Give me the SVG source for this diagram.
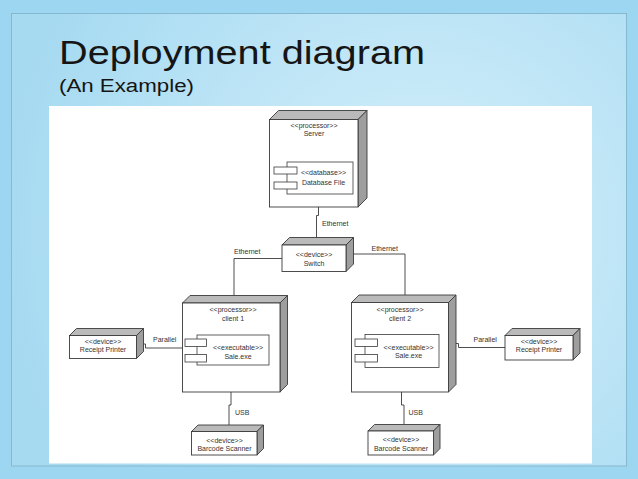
<svg xmlns="http://www.w3.org/2000/svg" width="638" height="479" viewBox="0 0 638 479">
<defs>
<radialGradient id="bg" cx="420" cy="230" r="420" gradientUnits="userSpaceOnUse">
<stop offset="0" stop-color="#d6f0fb"/>
<stop offset="1" stop-color="#a6daf1"/>
</radialGradient>
<style>
.front{fill:#ffffff;stroke:#3a3a3a;stroke-width:0.9}
.top{fill:#bababa;stroke:#3a3a3a;stroke-width:0.9;stroke-linejoin:round}
.side{fill:#9e9e9e;stroke:#3a3a3a;stroke-width:0.9;stroke-linejoin:round}
.comp{fill:#ffffff;stroke:#3a3a3a;stroke-width:0.8}
.t{font-family:"Liberation Sans",Arial,sans-serif;font-size:7px;fill:#333333;text-anchor:middle}
.lbl{font-family:"Liberation Sans",Arial,sans-serif;font-size:7px;fill:#333333}
.wire{fill:none;stroke:#3a3a3a;stroke-width:0.9}
</style>
</defs>
<rect x="0" y="0" width="638" height="479" fill="#9cd6f0"/>
<rect x="11.5" y="13.5" width="615" height="452.5" fill="url(#bg)" stroke="#86b9cf" stroke-width="1"/>
<text x="59" y="64" font-family="'Liberation Sans',Arial,sans-serif" font-size="34" fill="#151515" textLength="366" lengthAdjust="spacingAndGlyphs">Deployment diagram</text>
<text x="59" y="91.5" font-family="'Liberation Sans',Arial,sans-serif" font-size="18" fill="#151515" textLength="135" lengthAdjust="spacingAndGlyphs">(An Example)</text>
<rect x="49" y="106" width="543" height="357.5" fill="#ffffff"/>

<g id="connectors">
<path class="wire" d="M318.5 207 V215.5 H316.5 V245"/>
<path class="wire" d="M282 258.5 H234 V295.5"/>
<path class="wire" d="M350 254 H405 V295"/>
<path class="wire" d="M137 344 H145.5 V348 H182.5"/>
<path class="wire" d="M452.5 343.5 H458.5 V347.5 H505"/>
<path class="wire" d="M231 392 V405 H229 V425"/>
<path class="wire" d="M401.5 392 V405 H404 V424.5"/>
<text class="lbl" x="322" y="225.5">Ethernet</text>
<text class="lbl" x="234" y="254">Ethernet</text>
<text class="lbl" x="371.5" y="251">Ethernet</text>
<text class="lbl" x="153" y="342">Parallel</text>
<text class="lbl" x="473.5" y="342">Parallel</text>
<text class="lbl" x="235" y="414.5">USB</text>
<text class="lbl" x="408.5" y="414.5">USB</text>
</g>

<g id="server">
<polygon class="top" points="269.5,119.5 278.5,110.5 367,110.5 358,119.5"/>
<polygon class="side" points="358,119.5 367,110.5 367,198 358,207"/>
<rect class="front" x="269.5" y="119.5" width="88.5" height="87.5"/>
<text class="t" x="314" y="127.5">&lt;&lt;processor&gt;&gt;</text>
<text class="t" x="314" y="136">Server</text>
<g id="database-file">
<rect class="comp" x="287" y="162" width="66" height="32"/>
<rect class="comp" x="274" y="167" width="23" height="7"/>
<rect class="comp" x="274" y="182" width="23" height="7"/>
<text class="t" x="323.5" y="174.5">&lt;&lt;database&gt;&gt;</text>
<text class="t" x="323.5" y="184.5">Database File</text>
</g>
</g>

<g id="switch">
<polygon class="top" points="282,245 289.5,237.5 353.5,237.5 346,245"/>
<polygon class="side" points="346,245 353.5,237.5 353.5,264 346,271.5"/>
<rect class="front" x="282" y="245" width="64" height="26.5"/>
<text class="t" x="314" y="256.5">&lt;&lt;device&gt;&gt;</text>
<text class="t" x="314" y="265.5">Switch</text>
</g>

<g id="client1">
<polygon class="top" points="182.5,303 190,295.5 287.5,295.5 280,303"/>
<polygon class="side" points="280,303 287.5,295.5 287.5,384.5 280,392"/>
<rect class="front" x="182.5" y="303" width="97.5" height="89"/>
<text class="t" x="233" y="312">&lt;&lt;processor&gt;&gt;</text>
<text class="t" x="233" y="321">client 1</text>
<g id="sale-exe-1">
<rect class="comp" x="197" y="335" width="72" height="30"/>
<rect class="comp" x="185" y="339" width="21.5" height="7.5"/>
<rect class="comp" x="185" y="354.5" width="21.5" height="7.5"/>
<text class="t" x="238" y="349.5">&lt;&lt;executable&gt;&gt;</text>
<text class="t" x="238" y="358.5">Sale.exe</text>
</g>
</g>

<g id="client2">
<polygon class="top" points="351.5,302.5 359,295 456,295 448.5,302.5"/>
<polygon class="side" points="448.5,302.5 456,295 456,384.5 448.5,392"/>
<rect class="front" x="351.5" y="302.5" width="97" height="89.5"/>
<text class="t" x="400" y="312">&lt;&lt;processor&gt;&gt;</text>
<text class="t" x="400" y="320.5">client 2</text>
<g id="sale-exe-2">
<rect class="comp" x="365" y="334.5" width="74" height="33"/>
<rect class="comp" x="355" y="339" width="22.5" height="7.5"/>
<rect class="comp" x="355" y="354.5" width="22.5" height="7.5"/>
<text class="t" x="408.5" y="349.5">&lt;&lt;executable&gt;&gt;</text>
<text class="t" x="408.5" y="358">Sale.exe</text>
</g>
</g>

<g id="printer1">
<polygon class="top" points="69.5,335.5 76.5,328.5 143.5,328.5 136.5,335.5"/>
<polygon class="side" points="136.5,335.5 143.5,328.5 143.5,351.5 136.5,358.5"/>
<rect class="front" x="69.5" y="335.5" width="67" height="23"/>
<text class="t" x="103" y="343.5">&lt;&lt;device&gt;&gt;</text>
<text class="t" x="103" y="351.5">Receipt Printer</text>
</g>

<g id="printer2">
<polygon class="top" points="505,335.5 512,328.5 580,328.5 573,335.5"/>
<polygon class="side" points="573,335.5 580,328.5 580,353 573,360"/>
<rect class="front" x="505" y="335.5" width="68" height="24.5"/>
<text class="t" x="539" y="343.5">&lt;&lt;device&gt;&gt;</text>
<text class="t" x="539" y="352">Receipt Printer</text>
</g>

<g id="scanner1">
<polygon class="top" points="191.5,431.5 198,425 263.5,425 257,431.5"/>
<polygon class="side" points="257,431.5 263.5,425 263.5,448.5 257,455"/>
<rect class="front" x="191.5" y="431.5" width="65.5" height="23.5"/>
<text class="t" x="224.5" y="442.5">&lt;&lt;device&gt;&gt;</text>
<text class="t" x="224.5" y="450.5">Barcode Scanner</text>
</g>

<g id="scanner2">
<polygon class="top" points="368,431 374.5,424.5 440,424.5 433.5,431"/>
<polygon class="side" points="433.5,431 440,424.5 440,448.5 433.5,455"/>
<rect class="front" x="368" y="431" width="65.5" height="24"/>
<text class="t" x="401" y="442">&lt;&lt;device&gt;&gt;</text>
<text class="t" x="401" y="450.5">Barcode Scanner</text>
</g>
</svg>
